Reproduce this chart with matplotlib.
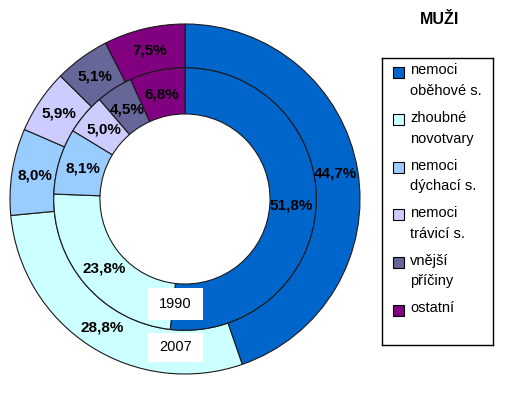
import matplotlib.pyplot as plt
import numpy as np
from matplotlib.patches import Rectangle

plt.rcParams['font.family'] = ['Liberation Sans', 'DejaVu Sans']

categories = ["nemoci\noběhové s.", "zhoubné\nnovotvary", "nemoci\ndýchací s.",
              "nemoci\ntrávicí s.", "vnější\npříčiny", "ostatní"]
values_2007 = [44.7, 28.8, 8.0, 5.9, 5.1, 7.5]
values_1990 = [51.8, 23.8, 8.1, 5.0, 4.5, 6.8]
colors = ['#0066CC', '#CCFFFF', '#99CCFF', '#CCCCFF', '#666699', '#800080']
title = "MUŽI"

W, H = 514, 393
fig = plt.figure(figsize=(W / 100, H / 100), dpi=100)

# pie axes: centre (185, 199) px, radius 175 px
cx, cy, R = 185, 199, 175
ax = fig.add_axes([(cx - R) / W, (H - cy - R) / H, 2 * R / W, 2 * R / H])

edge = dict(edgecolor='#1a1a1a', linewidth=0.8)
outer, _ = ax.pie(values_2007, radius=1.0, startangle=90, counterclock=False,
                  colors=colors, wedgeprops=dict(width=0.25, **edge))
inner, _ = ax.pie(values_1990, radius=0.75, startangle=90, counterclock=False,
                  colors=colors, wedgeprops=dict(width=0.264, **edge))
ax.set_xlim(-1, 1)
ax.set_ylim(-1, 1)


def fmt(v):
    return f"{v:.1f}%".replace('.', ',')


for wedges, vals, r in [(outer, values_2007, 0.87), (inner, values_1990, 0.61)]:
    for w, v in zip(wedges, vals):
        ang = np.deg2rad((w.theta1 + w.theta2) / 2)
        ax.text(r * np.cos(ang), r * np.sin(ang), fmt(v), ha='center', va='center',
                fontsize=11, fontweight='bold', color='black')

# year labels
for year, y0, y1 in [("1990", -0.509, -0.691), ("2007", -0.766, -0.931)]:
    ax.add_patch(Rectangle((-0.211, y1), 0.314, y0 - y1, facecolor='white',
                           edgecolor='none', zorder=5))
    ax.text(-0.054, (y0 + y1) / 2, year, ha='center', va='center', fontsize=10.5, zorder=6)

fig.text(440 / W, 1 - 20 / H, title, ha='center', va='center', fontsize=11.5, fontweight='bold')

# legend
lx0, lx1, ly0, ly1 = 382, 493, 58, 345
lax = fig.add_axes([lx0 / W, (H - ly1) / H, (lx1 - lx0) / W, (ly1 - ly0) / H])
lax.set_xlim(0, lx1 - lx0)
lax.set_ylim(ly1 - ly0, 0)
lax.set_xticks([])
lax.set_yticks([])
for s in lax.spines.values():
    s.set_linewidth(1.0)
    s.set_color('black')
for i, (lab, c) in enumerate(zip(categories, colors)):
    yc = 14 + i * 47.6
    lax.add_patch(Rectangle((11, yc - 5.5), 11, 11, facecolor=c, edgecolor='black', linewidth=0.8))
    lax.text(28, yc - 8.5, lab, ha='left', va='top', fontsize=10.5, linespacing=1.6)

fig.savefig('out.png', dpi=100)
